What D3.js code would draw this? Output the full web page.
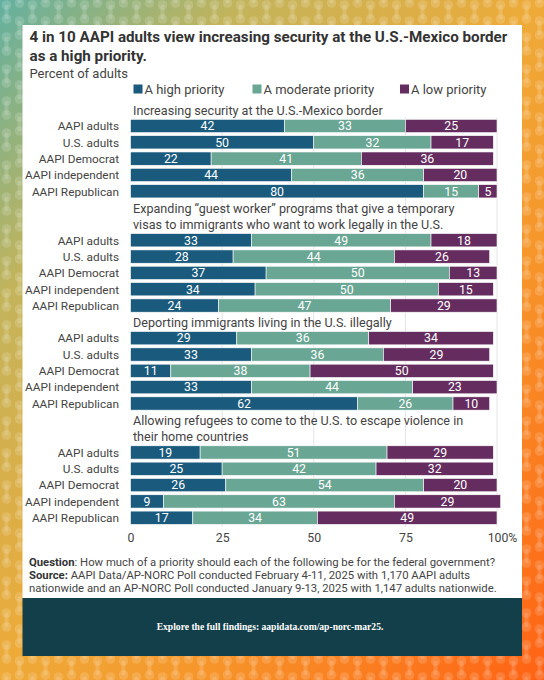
<!DOCTYPE html>
<html>
<head>
<meta charset="utf-8">
<script src="https://cdn.jsdelivr.net/npm/d3@7"></script>
<style>
html,body{margin:0;padding:0;background:#fff;}
svg{display:block;}
text{font-family:Roboto,"Noto Sans",sans-serif;}
</style>
</head>
<body>
<svg id="chart" width="544" height="680"></svg>
<script>
// ---- data ----
const titleLines = ["4 in 10 AAPI adults view increasing security at the U.S.-Mexico border", "as a high priority."];
const subtitle = "Percent of adults";
const seriesNames = ["A high priority", "A moderate priority", "A low priority"];
const seriesColors = ["#1a5a7d", "#6aa694", "#652c5f"];
const questions = [
  ["Increasing security at the U.S.-Mexico border"],
  ["Expanding \u201cguest worker\u201d programs that give a temporary", "visas to immigrants who want to work legally in the U.S."],
  ["Deporting immigrants living in the U.S. illegally"],
  ["Allowing refugees to come to the U.S. to escape violence in", "their home countries"]
];
const respondents = ["AAPI adults", "U.S. adults", "AAPI Democrat", "AAPI independent", "AAPI Republican"];
const high = [[42, 50, 22, 44, 80], [33, 28, 37, 34, 24], [29, 33, 11, 33, 62], [19, 25, 26, 9, 17]];
const moderate = [[33, 32, 41, 36, 15], [49, 44, 50, 50, 47], [36, 36, 38, 44, 26], [51, 42, 54, 63, 34]];
const low = [[25, 17, 36, 20, 5], [18, 26, 13, 15, 29], [34, 29, 50, 23, 10], [29, 32, 20, 29, 49]];
const xTicks = [0, 25, 50, 75, 100];
const footQuestion = ["Question", ": How much of a priority should each of the following be for the federal government?"];
const footSource = ["Source:", " AAPI Data/AP-NORC Poll conducted February 4-11, 2025 with 1,170 AAPI adults"];
const footSource2 = "nationwide and an AP-NORC Poll conducted January 9-13, 2025 with 1,147 adults nationwide.";
const bannerText = "Explore the full findings: aapidata.com/ap-norc-mar25.";

// ---- build rows ----
const rows = [];
questions.forEach((q, gi) => {
  q.forEach((line, li) => rows.push({type: "title", text: line, key: "t" + gi + "_" + li}));
  respondents.forEach((r, ri) => rows.push({
    type: "bar", label: r, key: "b" + gi + "_" + ri,
    values: [high[gi][ri], moderate[gi][ri], low[gi][ri]]
  }));
});

const svg = d3.select("#chart");
const W = 544, H = 680;

// ---- background ----
const defs = svg.append("defs");
const grad = defs.append("linearGradient").attr("id", "bg").attr("x1", "0").attr("y1", "0").attr("x2", "1").attr("y2", "1");
[[0, "#62b0a0"], [0.22, "#c2b45c"], [0.5, "#eeaa38"], [0.68, "#f6952a"], [1, "#ff6214"]].forEach(s =>
  grad.append("stop").attr("offset", s[0]).attr("stop-color", s[1]));
const pat = defs.append("pattern").attr("id", "dots").attr("patternUnits", "userSpaceOnUse")
  .attr("width", 26).attr("height", 32);
function dumbbell(g, cx, cy) {
  g.append("circle").attr("cx", cx).attr("cy", cy).attr("r", 4.8);
  g.append("circle").attr("cx", cx).attr("cy", cy + 14).attr("r", 4.8);
  g.append("rect").attr("x", cx - 2).attr("y", cy).attr("width", 4).attr("height", 14);
}
const pg = pat.append("g").attr("fill", "#fff").attr("fill-opacity", 0.15);
dumbbell(pg, 6.5, 5);
dumbbell(pg, 6.5, 37);
dumbbell(pg, 19.5, 21);
dumbbell(pg, 19.5, -11);
svg.append("rect").attr("width", W).attr("height", H).attr("fill", "url(#bg)");
svg.append("rect").attr("width", W).attr("height", H).attr("fill", "url(#dots)");

// ---- panel ----
const panel = {x: 22.5, y: 25, w: 499.5, h: 573};
svg.append("rect").attr("x", panel.x).attr("y", panel.y).attr("width", panel.w).attr("height", panel.h).attr("fill", "#fff");
svg.append("rect").attr("x", panel.x).attr("y", 598).attr("width", panel.w).attr("height", 58).attr("fill", "#133f4a");
svg.append("text").attr("x", 270).attr("y", 629.5).attr("text-anchor", "middle")
  .attr("fill", "#fff").attr("style", "font-family:'Liberation Serif','DejaVu Serif',serif")
  .attr("font-weight", "bold").attr("font-size", 9.6).text(bannerText);

// ---- titles ----
const tg = svg.append("g").attr("fill", "#333");
titleLines.forEach((t, i) => tg.append("text").attr("x", 29.5).attr("y", 42 + i * 19)
  .attr("font-weight", "bold").attr("font-size", 15.2).text(t));
tg.append("text").attr("x", 29.5).attr("y", 78).attr("font-size", 13).attr("fill", "#444").text(subtitle);

// ---- scales ----
const x = d3.scaleLinear().domain([0, 100]).range([130.5, 497]);
const y = d3.scaleBand().domain(rows.map(r => r.key)).range([103, 524.4]).paddingInner(0.185).paddingOuter(0);

// ---- legend ----
const legX = [133.5, 252.5, 400];
const lg = svg.append("g");
seriesNames.forEach((n, i) => {
  lg.append("rect").attr("x", legX[i]).attr("y", 84.5).attr("width", 9).attr("height", 9).attr("fill", seriesColors[i]);
  lg.append("text").attr("x", legX[i] + 11).attr("y", 93.8).attr("font-size", 13).attr("fill", "#444").text(n);
});

// ---- gridlines ----
const firstBar = rows.find(r => r.type === "bar").key;
svg.append("g").selectAll("line").data(xTicks.slice(1)).join("line")
  .attr("x1", d => x(d)).attr("x2", d => x(d))
  .attr("y1", y(firstBar) - 2).attr("y2", 527)
  .attr("stroke", "#e4e4e4").attr("stroke-width", 1);

// ---- question titles ----
svg.append("g").selectAll("text").data(rows.filter(r => r.type === "title")).join("text")
  .attr("x", 133).attr("y", d => y(d.key) + y.bandwidth() / 2 + 5.3)
  .attr("font-size", 12.6).attr("fill", "#444").text(d => d.text);

// ---- bars ----
const barRows = rows.filter(r => r.type === "bar");
const bg = svg.append("g").selectAll("g").data(barRows).join("g");
bg.each(function (d) {
  const g = d3.select(this);
  let acc = 0;
  const segs = d.values.map((v, i) => { const s = {v, i, x0: acc, x1: acc + v}; acc += v; return s; });
  g.selectAll("rect").data(segs).join("rect")
    .attr("x", s => x(s.x0)).attr("width", s => x(s.x1) - x(s.x0))
    .attr("y", y(d.key)).attr("height", y.bandwidth())
    .attr("fill", s => seriesColors[s.i]).attr("stroke", "#fff").attr("stroke-width", 0.6);
  g.selectAll("text.v").data(segs).join("text").attr("class", "v")
    .attr("x", s => (x(s.x0) + x(s.x1)) / 2).attr("y", y(d.key) + y.bandwidth() / 2 + 4.3)
    .attr("text-anchor", "middle").attr("font-size", 12.3).attr("fill", "#fff").text(s => s.v);
});

// ---- y labels ----
svg.append("g").selectAll("text").data(barRows).join("text")
  .attr("x", 119).attr("y", d => y(d.key) + y.bandwidth() / 2 + 4.3)
  .attr("text-anchor", "end").attr("font-size", 11.8).attr("fill", "#444").text(d => d.label);

// ---- x axis ----
const xAxis = d3.axisBottom(x).tickValues(xTicks).tickSize(0).tickPadding(0)
  .tickFormat(d => d === 100 ? "100%" : d);
const ax = svg.append("g").attr("transform", "translate(0,533)").call(xAxis);
ax.select(".domain").remove();
ax.selectAll("text").attr("font-size", 12.3).attr("fill", "#444").attr("font-family", "Roboto,sans-serif")
  .attr("dx", d => d === 100 ? 5 : 0);

// ---- footnotes ----
const fg = svg.append("g").attr("font-size", 11.3).attr("fill", "#444");
const f1 = fg.append("text").attr("x", 29).attr("y", 565.5);
f1.append("tspan").attr("font-weight", "bold").attr("fill", "#333").text(footQuestion[0]);
f1.append("tspan").text(footQuestion[1]);
const f2 = fg.append("text").attr("x", 29).attr("y", 578.7);
f2.append("tspan").attr("font-weight", "bold").attr("fill", "#333").text(footSource[0]);
f2.append("tspan").text(footSource[1]);
fg.append("text").attr("x", 29).attr("y", 592).text(footSource2);
</script>
</body>
</html>
